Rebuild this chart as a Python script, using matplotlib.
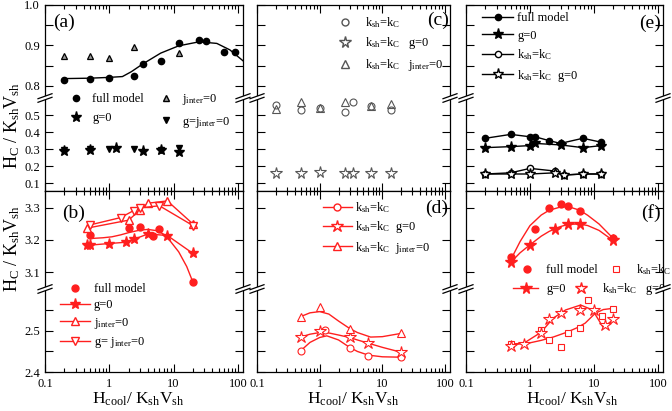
import matplotlib
matplotlib.use('Agg')
import matplotlib.pyplot as plt
import numpy as np
from matplotlib.lines import Line2D
from matplotlib.patches import Polygon
from matplotlib.ticker import FuncFormatter, NullFormatter, LogLocator, FixedLocator, FixedFormatter

plt.rcParams['font.family'] = ['Liberation Serif', 'DejaVu Serif']
plt.rcParams['mathtext.fontset'] = 'custom'
plt.rcParams['mathtext.rm'] = 'Liberation Serif'
plt.rcParams['mathtext.default'] = 'regular'
plt.rcParams['font.size'] = 9

RED = '#ff1f1f'
GRAY = '#555555'

# panel (a)
a_full_x = [0.2, 0.5, 1.0, 2.4, 3.3, 6.3, 12, 25, 32, 60, 90]
a_full_y = [0.815, 0.817, 0.820, 0.825, 0.854, 0.862, 0.907, 0.913, 0.912, 0.884, 0.884]
a_fit_x = [0.2, 0.5, 1.0, 1.6, 2.2, 3.3, 6.3, 12, 25, 47, 75, 120]
a_fit_y = [0.818, 0.819, 0.821, 0.823, 0.835, 0.854, 0.881, 0.899, 0.909, 0.905, 0.889, 0.862]
a_j0_x = [0.2, 0.5, 1.0, 2.4, 12]
a_j0_y = [0.875, 0.875, 0.869, 0.895, 0.882]
a_g0_x = [0.2, 0.5, 1.25, 3.3, 6.3, 12]
a_g0_y = [0.289, 0.294, 0.304, 0.289, 0.294, 0.280]
a_gj0_x = [0.2, 0.5, 1.0, 2.4, 6.3, 12]
a_gj0_y = [0.292, 0.298, 0.298, 0.302, 0.296, 0.306]

# panel (b)
b_full_x = [0.5, 2.0, 3.0, 4.7, 6.0, 20]
b_full_y = [3.216, 3.237, 3.240, 3.213, 3.233, 3.068]
b_fit_x = [0.55, 0.8, 1.1, 1.5, 2, 3, 4, 5.5, 7, 9, 12, 16, 20]
b_fit_y = [3.205, 3.207, 3.210, 3.216, 3.223, 3.231, 3.233, 3.229, 3.218, 3.195, 3.163, 3.117, 3.068]
b_g0_x = [0.45, 0.5, 1.0, 1.8, 2.4, 4.0, 8.0, 20]
b_g0_y = [3.184, 3.184, 3.189, 3.193, 3.202, 3.219, 3.214, 3.158]
b_j0_x = [0.45, 2.0, 3.0, 4.0, 8.0, 20]
b_j0_y = [3.237, 3.262, 3.294, 3.315, 3.322, 3.250]
b_gj0_x = [0.5, 1.5, 2.4, 3.0, 6.0, 20]
b_gj0_y = [3.247, 3.270, 3.292, 3.300, 3.307, 3.245]

# panel (c)
c_kk_x = [0.2, 0.5, 1.0, 2.5, 3.4, 6.7, 13.5]
c_kk_y = [0.559, 0.530, 0.543, 0.516, 0.575, 0.553, 0.530]
c_kkg0_x = [0.2, 0.5, 1.0, 2.5, 3.4, 6.7, 13.5]
c_kkg0_y = [0.157, 0.160, 0.167, 0.157, 0.160, 0.160, 0.160]
c_kkj0_x = [0.2, 0.5, 1.0, 2.5, 6.7, 13.5]
c_kkj0_y = [0.537, 0.578, 0.543, 0.578, 0.553, 0.565]

# panel (d)
d_kk_x = [0.5, 1.2, 3, 6, 20]
d_kk_y = [2.452, 2.502, 2.459, 2.440, 2.437]
d_kk_fx = [0.5, 0.7, 1.0, 1.3, 2, 3, 4, 6, 10, 20]
d_kk_fy = [2.452, 2.472, 2.484, 2.488, 2.478, 2.460, 2.450, 2.441, 2.437, 2.436]
d_g0_x = [0.5, 1.0, 3, 6, 20]
d_g0_y = [2.485, 2.501, 2.484, 2.471, 2.448]
d_g0_fx = [0.5, 0.7, 1.0, 1.4, 2, 3, 4, 6, 10, 20]
d_g0_fy = [2.485, 2.492, 2.496, 2.495, 2.490, 2.484, 2.478, 2.470, 2.460, 2.448]
d_j0_x = [0.5, 1.0, 3, 20]
d_j0_y = [2.535, 2.559, 2.505, 2.494]
d_j0_fx = [0.5, 0.7, 1.0, 1.4, 2, 3, 4, 6.5, 10, 20]
d_j0_fy = [2.535, 2.544, 2.547, 2.541, 2.524, 2.506, 2.496, 2.485, 2.486, 2.494]

# panel (e)
e_full_x = [0.2, 0.5, 1.0, 1.2, 2.0, 3.0, 6.7, 13]
e_full_y = [0.363, 0.386, 0.372, 0.372, 0.349, 0.333, 0.363, 0.340]
e_g0_x = [0.2, 0.5, 1.0, 1.2, 3.0, 6.7, 13]
e_g0_y = [0.308, 0.314, 0.320, 0.333, 0.324, 0.308, 0.320]
e_kk_x = [0.2, 0.5, 1.0, 2.5, 3.4, 6.7, 13]
e_kk_y = [0.153, 0.160, 0.186, 0.170, 0.147, 0.153, 0.153]
e_kkg0_x = [0.2, 0.5, 1.0, 2.5, 3.4, 6.7, 13]
e_kkg0_y = [0.153, 0.153, 0.153, 0.160, 0.147, 0.153, 0.153]

# panel (f)
f_full_x = [0.5, 1.2, 2.0, 3.0, 4.0, 6.0, 20]
f_full_y = [3.148, 3.233, 3.299, 3.312, 3.306, 3.292, 3.205]
f_full_fx = [0.5, 0.7, 1.0, 1.5, 2, 3, 4, 6, 8, 12, 20]
f_full_fy = [3.138, 3.195, 3.245, 3.278, 3.293, 3.303, 3.304, 3.293, 3.277, 3.250, 3.205]
f_g0_x = [0.5, 1.0, 2.5, 4.0, 6.0, 20]
f_g0_y = [3.132, 3.184, 3.233, 3.250, 3.250, 3.200]
f_g0_fx = [0.5, 0.7, 1, 1.5, 2, 3, 4, 6, 8, 12, 20]
f_g0_fy = [3.130, 3.160, 3.185, 3.212, 3.227, 3.242, 3.249, 3.250, 3.245, 3.230, 3.198]
f_kk_x = [0.5, 1.5, 2.0, 3.0, 4.0, 6.0, 8.0, 13.3, 20]
f_kk_y = [2.468, 2.502, 2.478, 2.462, 2.494, 2.507, 2.576, 2.537, 2.554]
f_kk_fx = [0.5, 1.0, 1.5, 2.3, 3.8, 5.5, 7.3, 10.5, 14, 20]
f_kk_fy = [2.468, 2.471, 2.477, 2.485, 2.497, 2.508, 2.519, 2.543, 2.552, 2.555]
f_kkg0_x = [0.5, 0.8, 1.5, 2.0, 3.0, 6.0, 10, 15, 20]
f_kkg0_y = [2.464, 2.468, 2.494, 2.529, 2.543, 2.551, 2.551, 2.515, 2.529]
f_kkg0_fx = [0.5, 0.8, 1.5, 2.3, 3.6, 6.2, 9.5, 11.8, 14, 18, 20]
f_kkg0_fy = [2.465, 2.470, 2.497, 2.531, 2.551, 2.563, 2.551, 2.527, 2.508, 2.522, 2.527]

KK = r'k$_{sh}$=k$_C$'
J0 = r'j$_{inter}$=0'

W, H = 672, 411
fig = plt.figure(figsize=(W / 100, H / 100), dpi=100)


def box(x0, x1, y0, y1):
    return [x0 / W, 1 - y1 / H, (x1 - x0) / W, (y1 - y0) / H]


cols = [(45, 243), (257, 450), (466, 663)]
bands = [(5, 98), (98, 191), (191, 289), (289, 372)]
ylims = [(0.77, 1.0), (0.053, 0.6), (3.047, 3.353), (2.4, 2.602)]
yticks = [[0.8, 0.85, 0.9, 0.95, 1.0], [0.1, 0.2, 0.3, 0.4, 0.5], [3.1, 3.2, 3.3], [2.4, 2.45, 2.5, 2.55]]
ylabs = [['0.8', '', '0.9', '', '1.0'], ['0.1', '0.2', '0.3', '0.4', '0.5'], ['3.1', '3.2', '3.3'], ['2.4', '', '2.5', '']]

ax = {}
for c, (x0, x1) in enumerate(cols):
    for b, (y0, y1) in enumerate(bands):
        a = fig.add_axes(box(x0, x1, y0, y1))
        a.set_xscale('log')
        a.set_xlim(0.1, 120)
        a.set_ylim(*ylims[b])
        a.yaxis.set_major_locator(FixedLocator(yticks[b]))
        a.yaxis.set_major_formatter(FixedFormatter(ylabs[b]))
        a.xaxis.set_major_locator(LogLocator(base=10))
        a.xaxis.set_minor_locator(LogLocator(base=10, subs=np.arange(2, 10)))
        a.xaxis.set_major_formatter(FuncFormatter(lambda v, p: f'{v:g}'))
        a.xaxis.set_minor_formatter(NullFormatter())
        upper = b % 2 == 0
        a.spines['bottom' if upper else 'top'].set_visible(False)
        a.tick_params(which='both', direction='in', left=True, right=True,
                      top=upper, bottom=not upper, labelbottom=(b == 3),
                      labelleft=(c == 0), labelsize=9, width=0.8)
        a.tick_params(which='major', length=6)
        a.tick_params(which='minor', length=3)
        a.tick_params(axis='x', pad=4.5)
        for s in a.spines.values():
            s.set_linewidth(0.9)
        ax[c, b] = a


def brk(sx, by):
    def seg(off):
        return [((sx - 7) / W, 1 - (by + 2.5 + off) / H), ((sx + 7) / W, 1 - (by - 2.5 + off) / H)]
    p1, p2 = seg(-1.8), seg(1.8)
    fig.add_artist(Polygon([p1[0], p1[1], p2[1], p2[0]], closed=True, transform=fig.transFigure,
                           facecolor='white', edgecolor='none', zorder=10))
    for p in (p1, p2):
        fig.add_artist(Line2D([p[0][0], p[1][0]], [p[0][1], p[1][1]], transform=fig.transFigure,
                              color='k', lw=0.9, zorder=11))


for x0, x1 in cols:
    for by in (98, 289):
        brk(x0, by)
        brk(x1, by)

# (a)
A, Al = ax[0, 0], ax[0, 1]
A.plot(a_fit_x, a_fit_y, color='k', lw=1.0)
A.plot(a_full_x, a_full_y, 'o', color='k', ms=4.5)
A.plot(a_j0_x, a_j0_y, '^', color='k', mfc='0.6', mec='k', mew=0.9, ms=5)
Al.plot(a_g0_x, a_g0_y, '*', color='k', ms=8)
Al.plot(a_gj0_x, a_gj0_y, 'v', color='k', ms=5)

# (b)
B = ax[0, 2]
B.plot(b_fit_x, b_fit_y, color=RED, lw=1.0)
B.plot(b_full_x, b_full_y, 'o', color=RED, ms=5)
B.plot(b_g0_x, b_g0_y, '-*', color=RED, lw=1.0, ms=8)
B.plot(b_j0_x, b_j0_y, '-^', color=RED, mfc='white', lw=1.0, ms=5.5)
B.plot(b_gj0_x, b_gj0_y, '-v', color=RED, mfc='white', lw=1.0, ms=5.5)

# (c)
Cl = ax[1, 1]
Cl.plot(c_kk_x, c_kk_y, 'o', color=GRAY, mfc='none', mew=0.8, ms=5)
Cl.plot(c_kkg0_x, c_kkg0_y, '*', color=GRAY, mfc='none', mew=0.8, ms=8.5)
Cl.plot(c_kkj0_x, c_kkj0_y, '^', color=GRAY, mfc='none', mew=0.8, ms=5.5)

# (d)
Dl = ax[1, 3]
Dl.plot(d_kk_fx, d_kk_fy, color=RED, lw=1.0)
Dl.plot(d_g0_fx, d_g0_fy, color=RED, lw=1.0)
Dl.plot(d_j0_fx, d_j0_fy, color=RED, lw=1.0)
Dl.plot(d_kk_x, d_kk_y, 'o', color=RED, mfc='white', mew=0.8, ms=5)
Dl.plot(d_g0_x, d_g0_y, '*', color=RED, mfc='white', mew=0.8, ms=9)
Dl.plot(d_j0_x, d_j0_y, '^', color=RED, mfc='white', mew=0.8, ms=5.5)

# (e)
El = ax[2, 1]
El.plot(e_full_x, e_full_y, '-o', color='k', lw=1.0, ms=4.5)
El.plot(e_g0_x, e_g0_y, '-*', color='k', lw=1.0, ms=8)
El.plot(e_kk_x, e_kk_y, '-o', color='k', mfc='white', lw=1.0, ms=4.5)
El.plot(e_kkg0_x, e_kkg0_y, '-*', color='k', mfc='white', lw=1.0, ms=8)

# (f)
F, Fl = ax[2, 2], ax[2, 3]
F.plot(f_full_fx, f_full_fy, color=RED, lw=1.0)
F.plot(f_g0_fx, f_g0_fy, color=RED, lw=1.0)
F.plot(f_full_x, f_full_y, 'o', color=RED, ms=5)
F.plot(f_g0_x, f_g0_y, '*', color=RED, ms=8.5)
Fl.plot(f_kk_fx, f_kk_fy, color=RED, lw=1.0)
Fl.plot(f_kkg0_fx, f_kkg0_fy, color=RED, lw=1.0)
Fl.plot(f_kk_x, f_kk_y, 's', color=RED, mec=RED, mfc='white', mew=0.8, ms=4.5)
Fl.plot(f_kkg0_x, f_kkg0_y, '*', color=RED, mfc='white', mew=0.8, ms=9)


def leg(handles, labels, x, y, **kw):
    fig.legend(handles, labels, loc='upper left', bbox_to_anchor=(x / W, 1 - y / H),
               frameon=False, borderpad=0, borderaxespad=0, fontsize=9, **kw)


def h(marker, color, line=False, **kw):
    return Line2D([], [], ls='-' if line else 'none', marker=marker, color=color, lw=1.0, **kw)


leg([h('o', 'k', ms=4.5), h('*', 'k', ms=8), h('^', 'k', mfc='0.6', ms=5), h('v', 'k', ms=5)],
    ['full model', 'g=0', J0, r'g=j$_{inter}$=0'], 70, 92, ncol=2,
    handlelength=1.0, handletextpad=0.8, columnspacing=1.2, labelspacing=0.6)
leg([h('o', RED, ms=5), h('*', RED, True, ms=8), h('^', RED, True, mfc='white', ms=5.5),
     h('v', RED, True, mfc='white', ms=5.5)],
    ['full model', 'g=0', J0, r'g= j$_{inter}$=0'], 60, 283,
    handlelength=2.4, handletextpad=0.3, labelspacing=0.35)
leg([h('o', GRAY, mfc='none', ms=5), h('*', GRAY, mfc='none', ms=8.5), h('^', GRAY, mfc='none', ms=5.5)],
    [KK, KK + '   g=0', KK + '   ' + J0], 339, 15,
    handlelength=1.0, handletextpad=1.1, labelspacing=0.45)
leg([h('o', RED, True, mfc='white', ms=5), h('*', RED, True, mfc='white', ms=9),
     h('^', RED, True, mfc='white', ms=5.5)],
    [KK, KK + '  g=0', KK + '  ' + J0], 323, 200,
    handlelength=2.3, handletextpad=0.25, labelspacing=0.35)
leg([h('o', 'k', True, ms=4.5), h('*', 'k', True, ms=8), h('o', 'k', True, mfc='white', ms=4.5),
     h('*', 'k', True, mfc='white', ms=8)],
    ['full model', 'g=0', KK, KK + '  g=0'], 482, 12,
    handlelength=2.5, handletextpad=0.3, labelspacing=0.45)
leg([h('o', RED, ms=5), h('s', RED, mfc='white', ms=4.5, mew=0.8)],
    ['full model', KK], 514, 262, ncol=2, handlelength=2.0, handletextpad=0.6, columnspacing=0.45)
leg([h('*', RED, True, ms=8.5), h('*', RED, mfc='white', ms=9)],
    ['g=0', KK + '   g=0'], 513, 281, ncol=2, handlelength=2.0, handletextpad=0.7, columnspacing=0.2)

# panel letters
for t, x, y, ha in [('(a)', 53, 22, 'left'), ('(b)', 62, 213, 'left'), ('(c)', 449, 20, 'right'),
                    ('(d)', 448, 208, 'right'), ('(e)', 661, 23, 'right'), ('(f)', 661, 213, 'right')]:
    fig.text(x / W, 1 - y / H, t, ha=ha, va='center', fontsize=14)

ylab = r'H$_C$ / K$_{sh}$V$_{sh}$'
fig.text(12 / W, 1 - 125 / H, ylab, rotation=90, ha='center', va='center', fontsize=13)
fig.text(12 / W, 1 - 248 / H, ylab, rotation=90, ha='center', va='center', fontsize=13)
xlab = r'H$_{cool}$/ K$_{sh}$V$_{sh}$'
for xc in (138, 353, 572):
    fig.text(xc / W, 1 - 404 / H, xlab, ha='center', va='baseline', fontsize=12.5)

fig.savefig('out.png', dpi=100)
